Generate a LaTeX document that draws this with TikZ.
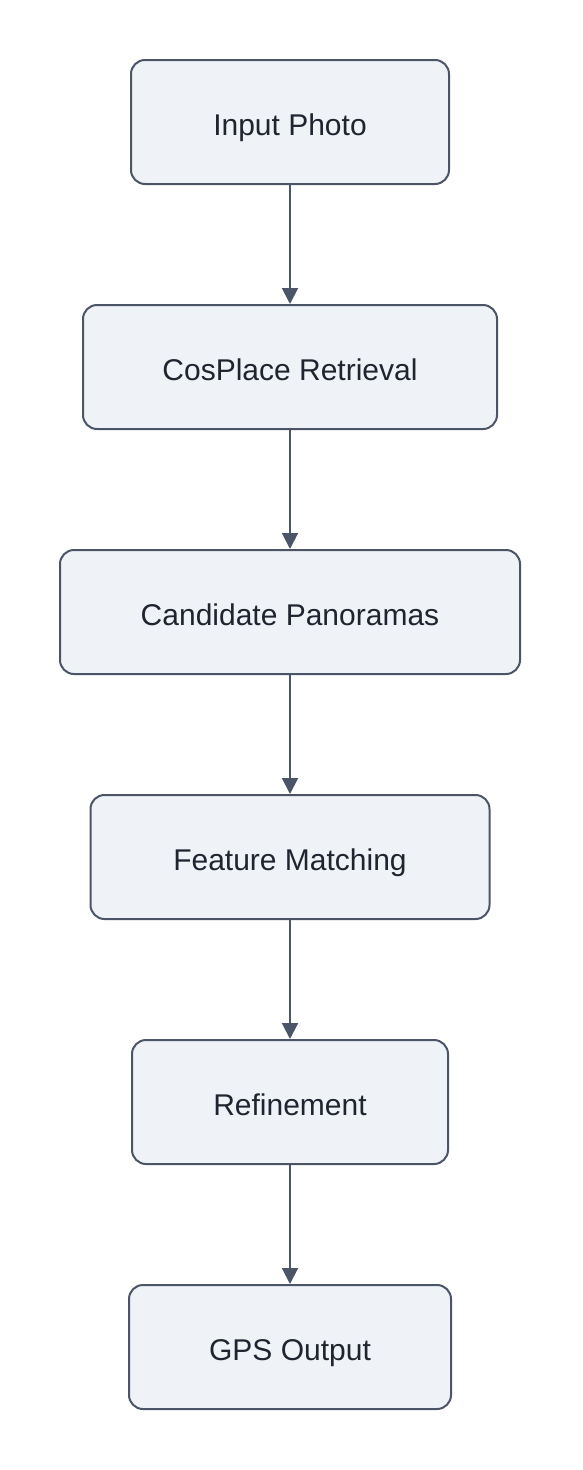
\documentclass[tikz,border=0pt]{standalone}
\usepackage{fontspec}
\setmainfont{Liberation Sans}
\usetikzlibrary{arrows.meta}
\definecolor{boxfill}{HTML}{EFF3F8}
\definecolor{boxline}{HTML}{4B5567}
\definecolor{txt}{HTML}{1F2430}
\newcommand{\lbltxt}[1]{\raisebox{-2.5pt}{#1}}
\begin{document}
\begin{tikzpicture}[x=1pt,y=-1pt,
  stepbox/.style={draw=boxline,fill=boxfill,line width=2pt,rounded corners=14pt,
    minimum height=124pt,inner sep=0pt,text=txt,font=\fontsize{30}{34}\selectfont,
    text height=21.5pt,text depth=0pt},
  conn/.style={draw=boxline,line width=2pt,-{Triangle[length=16pt,width=16pt]}}]
\useasboundingbox (0,0) rectangle (582,1470);
\node[stepbox,minimum width=318pt] (a) at (290,122) {\lbltxt{Input Photo}};
\node[stepbox,minimum width=414pt] (b) at (290,367) {\lbltxt{CosPlace Retrieval}};
\node[stepbox,minimum width=460pt] (c) at (290,612) {\lbltxt{Candidate Panoramas}};
\node[stepbox,minimum width=399pt] (d) at (290,857) {\lbltxt{Feature Matching}};
\node[stepbox,minimum width=316pt] (e) at (290,1102) {\lbltxt{Refinement}};
\node[stepbox,minimum width=322pt] (f) at (290,1347) {\lbltxt{GPS Output}};
\draw[conn] (a) -- (b);
\draw[conn] (b) -- (c);
\draw[conn] (c) -- (d);
\draw[conn] (d) -- (e);
\draw[conn] (e) -- (f);
\end{tikzpicture}
\end{document}
